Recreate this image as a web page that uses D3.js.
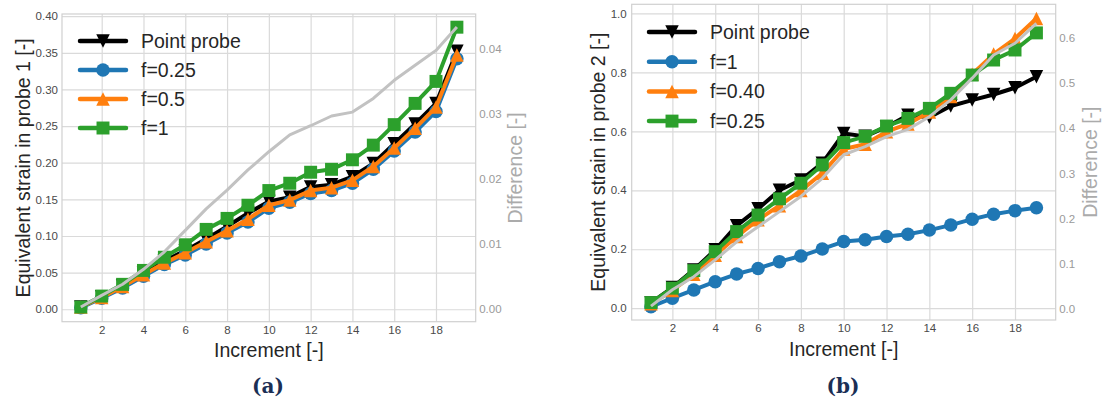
<!DOCTYPE html>
<html><head><meta charset="utf-8">
<script src="https://cdn.jsdelivr.net/npm/d3@7"></script>
<style>body{margin:0;background:#fff} svg{display:block}</style>
</head><body>
<svg id="c" width="1113" height="403"></svg>
<script>
// ---------------- data ----------------
const increments = [1,2,3,4,5,6,7,8,9,10,11,12,13,14,15,16,17,18,19];
const xTickValues = [2,4,6,8,10,12,14,16,18];

// panel (a): probe 1
const p1Names = ["Point probe", "f=0.25", "f=0.5", "f=1"];
const p1Point = [0.003,0.017,0.032,0.049,0.066,0.080,0.096,0.113,0.131,0.147,0.153,0.167,0.170,0.181,0.199,0.226,0.253,0.281,0.352];
const p1F025  = [0.002,0.015,0.029,0.045,0.061,0.074,0.089,0.104,0.119,0.138,0.146,0.158,0.162,0.172,0.191,0.216,0.242,0.270,0.342];
const p1F05   = [0.003,0.016,0.031,0.047,0.063,0.077,0.092,0.107,0.123,0.142,0.149,0.162,0.166,0.176,0.195,0.220,0.247,0.276,0.347];
const p1F1    = [0.003,0.018,0.034,0.053,0.071,0.088,0.109,0.124,0.142,0.162,0.172,0.187,0.191,0.204,0.224,0.252,0.281,0.311,0.385];
const p1Diff  = [0.0002,0.002,0.0037,0.006,0.0087,0.012,0.0153,0.0182,0.0213,0.0241,0.0267,0.0281,0.0296,0.0302,0.0323,0.0351,0.0374,0.0397,0.0433];
const p1YTicks = [0,0.05,0.10,0.15,0.20,0.25,0.30,0.35,0.40];
const p1DTicks = [0,0.01,0.02,0.03,0.04];

// panel (b): probe 2
const p2Names = ["Point probe", "f=1", "f=0.40", "f=0.25"];
const p2Point = [0.018,0.070,0.130,0.198,0.280,0.337,0.400,0.435,0.492,0.593,0.583,0.615,0.655,0.648,0.686,0.706,0.725,0.748,0.785];
const p2F1    = [0.005,0.034,0.062,0.090,0.116,0.135,0.158,0.177,0.201,0.226,0.232,0.243,0.251,0.265,0.282,0.302,0.319,0.331,0.341];
const p2F040  = [0.015,0.060,0.115,0.180,0.243,0.300,0.348,0.399,0.458,0.540,0.556,0.599,0.625,0.666,0.718,0.794,0.862,0.915,0.983];
const p2F025  = [0.019,0.068,0.1275,0.192,0.260,0.316,0.371,0.424,0.486,0.562,0.583,0.618,0.644,0.678,0.729,0.791,0.842,0.876,0.934];
const p2Diff  = [0.007,0.043,0.072,0.109,0.149,0.182,0.2155,0.249,0.289,0.341,0.359,0.381,0.397,0.425,0.462,0.510,0.561,0.587,0.631];
const p2YTicks = [0,0.2,0.4,0.6,0.8,1.0];
const p2DTicks = [0,0.1,0.2,0.3,0.4,0.5,0.6];

// ---------------- styles ----------------
const seriesColors = ["#000000", "#1f77b4", "#ff7f0e", "#2ca02c"];
const seriesMarkers = ["v", "o", "^", "s"];
const diffColor = "#c2c2c2";
const FONT = "'Liberation Sans', Arial, sans-serif";

const svg = d3.select("#c");

function markerPath(type, s) {
  const h = s / 2;
  if (type === "v") return `M0,${h}L${-h},${-h}L${h},${-h}Z`;
  if (type === "^") return `M0,${-h}L${-h},${h}L${h},${h}Z`;
  if (type === "s") { const q = s * 0.48; return `M${-q},${-q}H${q}V${q}H${-q}Z`; }
  return d3.symbol(d3.symbolCircle, Math.PI * h * h)();
}

function drawPanel(o) {
  const g = svg.append("g");
  const x = d3.scaleLinear().domain([0.1, 19.9]).range([o.left, o.right]);
  const y = d3.scaleLinear().domain(o.yDomain).range([o.bottom, o.top]);
  const y2 = d3.scaleLinear().domain(o.dDomain).range([o.bottom, o.top]);
  const H = o.bottom - o.top, W = o.right - o.left;

  const gx = g.append("g").attr("transform", `translate(0,${o.bottom})`)
    .call(d3.axisBottom(x).tickValues(xTickValues).tickSize(-H).tickPadding(4).tickFormat(d3.format("d")));
  const gy = g.append("g").attr("transform", `translate(${o.left},0)`)
    .call(d3.axisLeft(y).tickValues(o.yTicks).tickSize(-W).tickPadding(o.yPad).tickFormat(d3.format(o.yFmt)));
  [gx, gy].forEach(a => {
    a.select(".domain").remove();
    a.selectAll(".tick line").attr("stroke", "#dadada").attr("stroke-width", 1.2);
    a.selectAll(".tick text").attr("fill", "#4a4a4a").style("font-family", FONT).style("font-size", "11.5px");
  });
  const gd = g.append("g").attr("transform", `translate(${o.right},0)`)
    .call(d3.axisRight(y2).tickValues(o.dTicks).tickSize(0).tickPadding(3.5).tickFormat(d3.format(o.dFmt)));
  gd.select(".domain").remove();
  gd.selectAll(".tick text").attr("fill", "#9a9a9a").style("font-family", FONT).style("font-size", "11.5px");

  g.append("rect").attr("x", o.left).attr("y", o.top).attr("width", W).attr("height", H)
    .attr("fill", "none").attr("stroke", "#d0d0d0").attr("stroke-width", 1.2);

  const line = d3.line().x((d, i) => x(increments[i])).y(d => y(d));
  o.series.forEach((vals, k) => {
    g.append("path").datum(vals).attr("d", line).attr("fill", "none")
      .attr("stroke", seriesColors[k]).attr("stroke-width", 4).attr("stroke-linejoin", "round");
    g.append("g").selectAll("path").data(vals).join("path")
      .attr("transform", (d, i) => `translate(${x(increments[i])},${y(d)})`)
      .attr("d", markerPath(seriesMarkers[k], 13.5))
      .attr("fill", seriesColors[k]);
  });
  const dline = d3.line().x((d, i) => x(increments[i])).y(d => y2(d));
  g.append("path").datum(o.diff).attr("d", dline).attr("fill", "none")
    .attr("stroke", diffColor).attr("stroke-width", 3).attr("stroke-linejoin", "round");

  o.names.forEach((name, k) => {
    const ly = o.legY + k * o.legStep;
    g.append("line").attr("x1", o.legX).attr("x2", o.legX + 46).attr("y1", ly).attr("y2", ly)
      .attr("stroke", seriesColors[k]).attr("stroke-width", 4.5).attr("stroke-linecap", "round");
    g.append("path").attr("transform", `translate(${o.legX + 23},${ly})`)
      .attr("d", markerPath(seriesMarkers[k], 13.5)).attr("fill", seriesColors[k]);
    g.append("text").attr("x", o.legX + 61).attr("y", ly).attr("dy", "0.36em")
      .attr("fill", "#262626").style("font-family", FONT).style("font-size", "19.5px").text(name);
  });

  g.append("text").attr("x", (o.left + o.right) / 2).attr("y", o.xLabY).attr("text-anchor", "middle")
    .attr("fill", "#262626").style("font-family", FONT).style("font-size", "19.5px").text("Increment [-]");
  g.append("text").attr("transform", `translate(${o.yLabX},${(o.top + o.bottom) / 2}) rotate(-90)`)
    .attr("text-anchor", "middle").attr("dy", "0.36em")
    .attr("fill", "#262626").style("font-family", FONT).style("font-size", "19.5px").text(o.yLabel);
  g.append("text").attr("transform", `translate(${o.dLabX},${(o.top + o.bottom) / 2}) rotate(-90)`)
    .attr("text-anchor", "middle").attr("dy", "0.36em")
    .attr("fill", "#ababab").style("font-family", FONT).style("font-size", "19.5px").text("Difference [-]");
  g.append("text").attr("x", o.capX).attr("y", 393).attr("text-anchor", "middle")
    .attr("fill", "#1b2f55").style("font-family", "'DejaVu Serif', serif").style("font-weight", "bold")
    .style("font-size", "20px").text(o.caption);
}

drawPanel({
  left: 62, right: 475.7, top: 14, bottom: 321.7,
  yDomain: [-0.017, 0.403], dDomain: [-0.00206, 0.0453],
  yTicks: p1YTicks, yFmt: ".2f", yPad: 4, dTicks: p1DTicks, dFmt: ".2f",
  series: [p1Point, p1F025, p1F05, p1F1], diff: p1Diff, names: p1Names,
  legX: 80, legY: 41, legStep: 29,
  xLabY: 357, yLabX: 22.5, dLabX: 514.5,
  yLabel: "Equivalent strain in probe 1 [-]", caption: "(a)", capX: 268
});
drawPanel({
  left: 631.7, right: 1055.7, top: 4.3, bottom: 320,
  yDomain: [-0.040, 1.031], dDomain: [-0.0236, 0.673],
  yTicks: p2YTicks, yFmt: ".1f", yPad: 5, dTicks: p2DTicks, dFmt: ".1f",
  series: [p2Point, p2F1, p2F040, p2F025], diff: p2Diff, names: p2Names,
  legX: 649, legY: 32, legStep: 29.7,
  xLabY: 356, yLabX: 597.5, dLabX: 1090,
  yLabel: "Equivalent strain in probe 2 [-]", caption: "(b)", capX: 843
});
</script>
</body></html>
